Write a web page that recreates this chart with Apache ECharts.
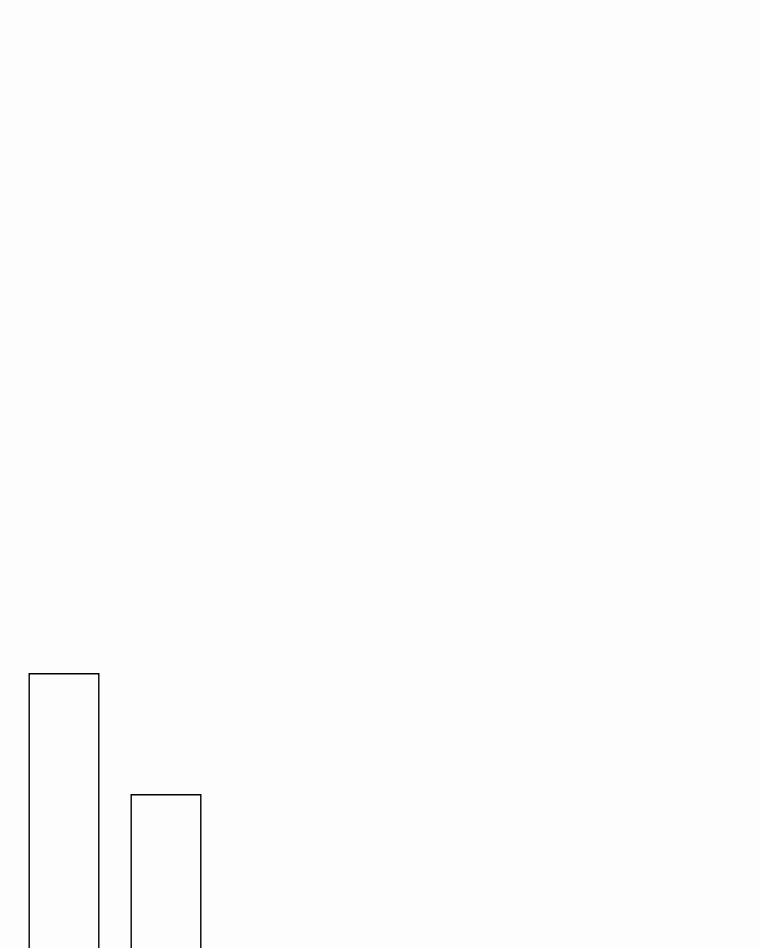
<!DOCTYPE html>
<html>
<head>
<meta charset="UTF-8">
<title>Bars</title>
<script src="https://cdn.jsdelivr.net/npm/echarts@6/dist/echarts.min.js"></script>
<style>
  html, body { margin: 0; padding: 0; background: #fdfdfd; overflow: hidden; }
  /* chart is taller than the window so the bar bottoms are cut off */
  #main { width: 760px; height: 1000px; }
</style>
</head>
<body>
<div id="main"></div>
<script>
// data
var categories = ['A', 'B'];
var values = [327, 206];

var chart = echarts.init(document.getElementById('main'));
chart.setOption({
  animation: false,
  backgroundColor: '#fdfdfd',
  grid: { left: 13, width: 204, top: 0, bottom: 0 },
  xAxis: {
    type: 'category',
    data: categories,
    show: false
  },
  yAxis: {
    type: 'value',
    min: 0,
    max: 1000,
    show: false
  },
  series: [{
    type: 'bar',
    data: values,
    barWidth: 71,
    itemStyle: {
      color: 'rgba(0,0,0,0)',
      borderColor: '#000',
      borderWidth: 1.4
    }
  }]
});
</script>
</body>
</html>
